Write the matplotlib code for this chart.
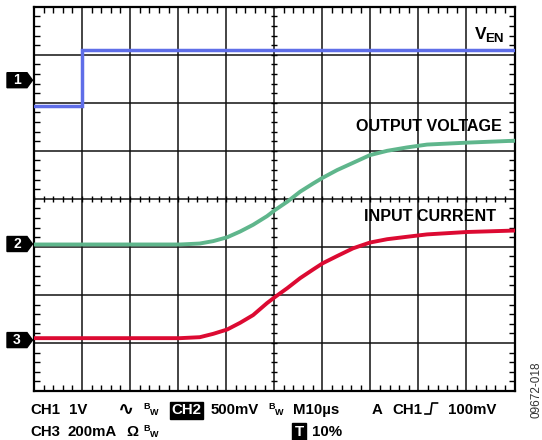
import matplotlib
matplotlib.use("Agg")
import matplotlib.pyplot as plt
from matplotlib.patches import Polygon
from matplotlib.lines import Line2D
import numpy as np

# ---- data (screen divisions: x 0..10, y 0..8) ----
ch1_t = [0.0, 1.0, 1.0, 10.0]
ch1_v = [5.93, 5.93, 7.10, 7.10]

ch2_t = [0.0, 3.04, 3.45, 3.73, 4.02, 4.29, 4.56, 4.85, 5.02, 5.27, 5.54, 5.81, 6.01,
         6.31, 6.64, 6.99, 7.35, 7.76, 8.18, 9.01, 10.0]
ch2_v = [3.05, 3.05, 3.07, 3.12, 3.20, 3.32, 3.46, 3.64, 3.77, 3.94, 4.15, 4.32, 4.44,
         4.60, 4.75, 4.91, 5.00, 5.07, 5.13, 5.17, 5.21]

ch3_t = [0.0, 3.04, 3.45, 3.73, 4.02, 4.29, 4.56, 4.85, 5.02, 5.27, 5.54, 5.81, 6.01,
         6.31, 6.64, 6.99, 7.35, 7.76, 8.18, 9.01, 10.0]
ch3_v = [1.10, 1.10, 1.12, 1.19, 1.28, 1.42, 1.58, 1.83, 1.96, 2.14, 2.35, 2.53, 2.66,
         2.81, 2.97, 3.09, 3.16, 3.21, 3.26, 3.31, 3.34]

markers = ["1", "2", "3"]
marker_levels = [6.47, 3.06, 1.06]

trace_labels = ["OUTPUT VOLTAGE", "INPUT CURRENT"]

W, H = 542, 440
FONT = ["Liberation Sans", "DejaVu Sans"]

fig = plt.figure(figsize=(W / 100, H / 100), dpi=100)
fig.patch.set_facecolor("white")
x0, x1, ytop, ybot = 34.0, 514.5, 6.7, 391.0
ax = fig.add_axes([x0 / W, 1 - ybot / H, (x1 - x0) / W, (ybot - ytop) / H])
ax.set_xlim(0, 10)
ax.set_ylim(0, 8)

# grid
ax.set_xticks(np.arange(0, 11, 1))
ax.set_yticks(np.arange(0, 9, 1))
ax.set_xticks(np.arange(0, 10.01, 0.2), minor=True)
ax.set_yticks(np.arange(0, 8.01, 0.2), minor=True)
ax.grid(True, which="major", color="#111111", lw=1.1)
ax.tick_params(which="major", length=0, labelbottom=False, labelleft=False)
ax.tick_params(which="minor", direction="in", length=4, width=1.0, color="black",
               top=True, right=True, bottom=True, left=True)
for s in ax.spines.values():
    s.set_linewidth(1.6)
    s.set_color("black")

# centre cross ticks
mx = np.arange(0, 10.01, 0.2)
my = np.arange(0, 8.01, 0.2)
ax.vlines(mx, 4 - 0.065, 4 + 0.065, color="black", lw=1.0, zorder=2)
ax.hlines(my, 5 - 0.065, 5 + 0.065, color="black", lw=1.0, zorder=2)

# traces
ax.plot(ch1_t, ch1_v, color="#5f6ee8", lw=2.5, solid_joinstyle="miter", zorder=3)
ax.plot(ch2_t, ch2_v, color="#5fb68c", lw=2.8, zorder=3)
ax.plot(ch3_t, ch3_v, color="#dc0a32", lw=2.8, zorder=3)

def px(x, y):
    return x / W, 1 - y / H

# trace labels
fig.text(*px(474.5, 39), "V", fontsize=12.5, fontweight="bold", family=FONT, va="baseline")
fig.text(*px(485.5, 42.5), "EN", fontsize=9.5, fontweight="bold", family=FONT, va="baseline")
fig.text(*px(502, 131), trace_labels[0], fontsize=11.6, fontweight="bold", family=FONT,
         ha="right", va="baseline")
fig.text(*px(496, 221), trace_labels[1], fontsize=11.6, fontweight="bold", family=FONT,
         ha="right", va="baseline")

# channel markers
fig.canvas.draw()
for lab, lev in zip(markers, marker_levels):
    ypix = H - ax.transData.transform((0, lev))[1]
    poly = [px(7, ypix - 7.5), px(27, ypix - 7.5), px(32.5, ypix), px(27, ypix + 7.5), px(7, ypix + 7.5)]
    fig.patches.append(Polygon(poly, closed=True, transform=fig.transFigure,
                               facecolor="black", edgecolor="black", figure=fig))
    fig.text(*px(17, ypix), lab, color="white", fontsize=10, fontweight="bold",
             family=FONT, ha="center", va="center")

# bottom status text
def t(x, y, s, size=10.8, **kw):
    fig.text(*px(x, y), s, fontsize=size, fontweight="bold", family=FONT,
             ha="left", va="baseline", **kw)

L1, L2 = 414, 436
t(30.5, L1, "CH1")
t(69, L1, "1V")
t(118, L1 + 0.5, "\u223F", size=14)
t(143, L1 - 5, "B", size=6.5)
t(149.5, L1 + 1, "W", size=6.5)
t(171.5, L1, "CH2", color="white",
  bbox=dict(boxstyle="square,pad=0.1", fc="black", ec="black"))
t(211, L1, "500mV")
t(268, L1 - 5, "B", size=6.5)
t(274.5, L1 + 1, "W", size=6.5)
t(293, L1, "M10\u00b5s")
t(372, L1, "A")
t(392, L1, "CH1")
t(448, L1, "100mV")
fig.lines.append(Line2D([425 / W, 430.5 / W, 432 / W, 437.5 / W],
                        [1 - 414 / H, 1 - 414 / H, 1 - 403 / H, 1 - 403 / H],
                        transform=fig.transFigure, color="black", lw=1.2))

t(30, L2, "CH3")
t(68, L2, "200mA")
t(126, L2, "\u03A9")
t(143, L2 - 5, "B", size=6.5)
t(149.5, L2 + 1, "W", size=6.5)
t(294.5, L2, "T", color="white",
  bbox=dict(boxstyle="square,pad=0.15", fc="black", ec="black"))
t(312, L2, "10%")

fig.text(*px(537, 390), "09672-018", fontsize=8.5, family=FONT, rotation=90,
         ha="center", va="center", color="#333333")

fig.savefig("out.png", dpi=100, facecolor="white")
